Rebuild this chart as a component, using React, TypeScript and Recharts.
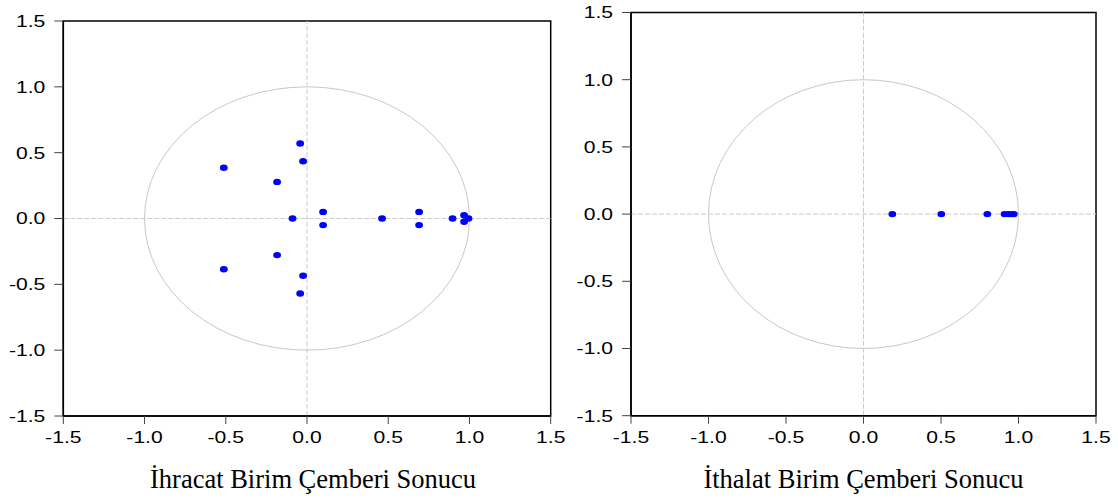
import React from 'react';
import { ScatterChart, Scatter, XAxis, YAxis, ReferenceLine, ReferenceArea } from 'recharts';

// Left panel: export (İhracat) inverse roots
const exportRe = [-0.042, -0.024, -0.512, -0.184, 0.099, -0.089, 0.462, 0.69, 0.896, 0.967, 0.994, 0.967, 0.69, 0.099, -0.184, -0.512, -0.024, -0.042];
const exportIm = [0.57, 0.435, 0.385, 0.278, 0.05, 0.0, 0.0, 0.05, 0.0, 0.025, 0.0, -0.025, -0.05, -0.05, -0.278, -0.385, -0.435, -0.57];

// Right panel: import (İthalat) inverse roots
const importRe = [0.186, 0.502, 0.799, 0.91, 0.935, 0.955, 0.97];
const importIm = [0, 0, 0, 0, 0, 0, 0];

const axisTicks = [-1.5, -1.0, -0.5, 0.0, 0.5, 1.0, 1.5];
const domain: [number, number] = [-1.5, 1.5];
const unitBox = [-1, 1];

const titles = ['İhracat Birim Çemberi Sonucu', 'İthalat Birim Çemberi Sonucu'];

const exportData = exportRe.map((x, i) => ({ x, y: exportIm[i] }));
const importData = importRe.map((x, i) => ({ x, y: importIm[i] }));

const TICK_FONT = 'Liberation Sans, Arial, sans-serif';
const TICK_SIZE = 16.5;
const STRETCH = 1.28;

const XTick = (props: any) => {
  const { x, y, payload } = props;
  return (
    <text
      transform={`translate(${x},${y}) scale(${STRETCH},1)`}
      x={0}
      y={0}
      dy="0.75em"
      textAnchor="middle"
      fontSize={TICK_SIZE}
      fontFamily={TICK_FONT}
      fill="#000"
    >
      {Number(payload.value).toFixed(1)}
    </text>
  );
};

const YTick = (props: any) => {
  const { x, y, payload } = props;
  return (
    <text
      transform={`translate(${x},${y}) scale(${STRETCH},1)`}
      x={0}
      y={0}
      dy="0.36em"
      textAnchor="end"
      fontSize={TICK_SIZE}
      fontFamily={TICK_FONT}
      fill="#000"
    >
      {Number(payload.value).toFixed(1)}
    </text>
  );
};

const Dot = (props: any) => {
  const { cx, cy } = props;
  if (cx == null || cy == null) return null;
  return <ellipse cx={cx} cy={cy} rx={3.9} ry={3.2} fill="#0000ff" />;
};

const UnitCircle = (p: any) => {
  const { x, y, width, height } = p;
  if (x == null) return null;
  return (
    <ellipse
      cx={x + width / 2}
      cy={y + height / 2}
      rx={Math.abs(width) / 2}
      ry={Math.abs(height) / 2}
      fill="none"
      stroke="#c8c8c8"
      strokeWidth={1}
    />
  );
};

function Panel({ data, width, margin, yWidth }: { data: any[]; width: number; margin: any; yWidth: number }) {
  return (
    <ScatterChart width={width} height={501} margin={margin}>
      <XAxis
        type="number"
        dataKey="x"
        domain={domain}
        ticks={axisTicks}
        allowDataOverflow
        height={40}
        tickSize={8}
        tickMargin={7}
        tick={<XTick />}
        axisLine={{ stroke: '#000', strokeWidth: 1.5 }}
        tickLine={{ stroke: '#444' }}
        interval={0}
      />
      <YAxis
        type="number"
        dataKey="y"
        domain={domain}
        ticks={axisTicks}
        allowDataOverflow
        width={yWidth}
        tickSize={9}
        tickMargin={9}
        tick={<YTick />}
        axisLine={{ stroke: '#000', strokeWidth: 1.5 }}
        tickLine={{ stroke: '#444' }}
        interval={0}
      />
      <ReferenceArea
        x1={domain[0]}
        x2={domain[1]}
        y1={domain[0]}
        y2={domain[1]}
        fill="none"
        stroke="#000"
        strokeWidth={1.5}
        fillOpacity={0}
        ifOverflow="visible"
      />
      <ReferenceLine x={0} stroke="#cccccc" strokeDasharray="5 2" />
      <ReferenceLine y={0} stroke="#cccccc" strokeDasharray="5 2" />
      <ReferenceArea
        x1={unitBox[0]}
        x2={unitBox[1]}
        y1={unitBox[0]}
        y2={unitBox[1]}
        shape={UnitCircle}
        ifOverflow="visible"
      />
      <Scatter data={data} shape={Dot} isAnimationActive={false} />
    </ScatterChart>
  );
}

export default function App() {
  return (
    <div style={{ position: 'absolute', left: 0, top: 0, width: 1118, height: 501, background: '#fff' }}>
      <div style={{ position: 'absolute', left: 0, top: 0 }}>
        <Panel data={exportData} width={585} yWidth={63.3} margin={{ top: 21, right: 34.3, bottom: 45, left: 0 }} />
      </div>
      <div style={{ position: 'absolute', left: 560, top: 0 }}>
        <Panel data={importData} width={558} yWidth={71} margin={{ top: 12.5, right: 22, bottom: 45.3, left: 0 }} />
      </div>
      <svg width={1118} height={501} style={{ position: 'absolute', left: 0, top: 0, pointerEvents: 'none' }}>
        <text x={313} y={488} textAnchor="middle" fontFamily="Liberation Serif, Times New Roman, serif" fontSize={26.5} fill="#000">
          {titles[0]}
        </text>
        <text x={863.5} y={488} textAnchor="middle" fontFamily="Liberation Serif, Times New Roman, serif" fontSize={26.5} fill="#000">
          {titles[1]}
        </text>
      </svg>
    </div>
  );
}
